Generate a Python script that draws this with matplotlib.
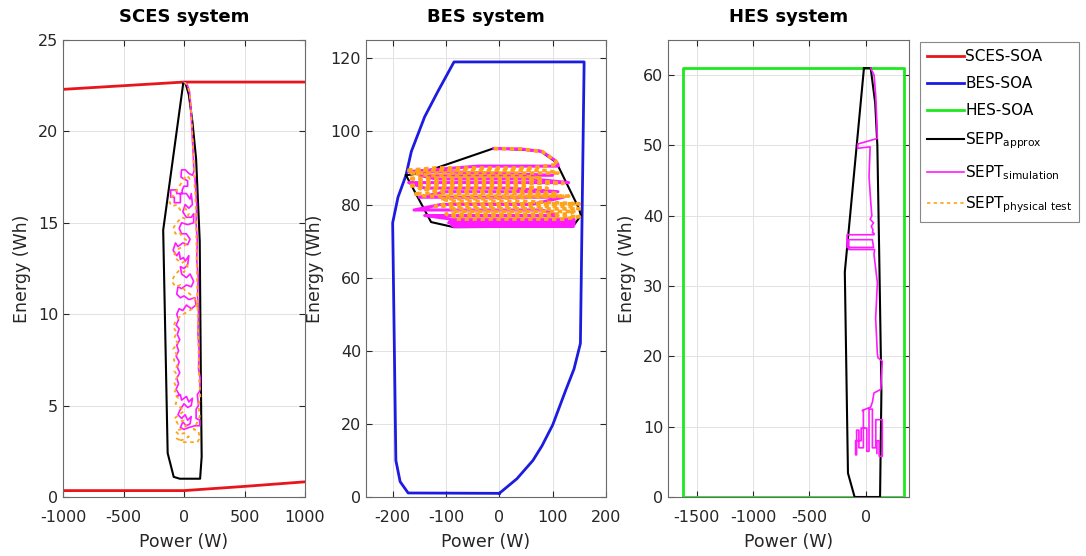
import matplotlib
matplotlib.use("Agg")
import matplotlib.pyplot as plt
from matplotlib.lines import Line2D

plt.rcParams["axes.unicode_minus"] = False

# ---- SCES system ----
sces_soa_hi_p = [-1000, 0, 1000]
sces_soa_hi_e = [22.3, 22.7, 22.7]
sces_soa_lo_p = [-1000, 0, 500, 1000]
sces_soa_lo_e = [0.35, 0.35, 0.58, 0.83]

sces_sepp_p = [-7, -172, -135, -85, -35, 133, 146, 140, 130, 100, 70, 40, 10, -7]
sces_sepp_e = [22.6, 14.6, 2.4, 1.1, 1.0, 1.0, 2.2, 6.0, 14.0, 18.5, 20.5, 22.0, 22.7, 22.6]

sces_sim_p = [0, 25, 45, 55, 62, 70, 78, 82, 70, 40, 10, -20, -25, 0, 30, 30, 0, -15, -15, -60,
              -60, -110, -110, -80, -80, -30, -30, 20, 50, 60, 70, 40, 10, -10, 20, 60, 80, 80, 30, -20,
              -40, -20, 20, 50, 30, -10, -50, -70, -90, -60, -40, -30, -5, 10, 40, 30, 0, -30, -20, 20,
              50, 80, 60, 20, -20, -50, -60, -30, 0, 40, 90, 100, 60, 20, -10, -40, -60, -45, -65, -40,
              -55, -35, -60, -45, -65, -40, -55, -35, -60, -45, -65, -40, -60, -30, -20, 20, 40, 70, 60, 30,
              0, -30, -50, -20, 10, 30, 60, 50, 20, -10, -30, 0, 40, 90, 130, 130, 100, 100, 120, 110,
              130, 135, 120, 125, 115, 120, 112, 118, 105, 110, 100, 105, 95, 90]
sces_sim_e = [22.7, 22.6, 22.2, 21.5, 20.5, 19.5, 18.5, 17.8, 17.6, 17.7, 17.9, 17.9, 17.5, 17.4, 17.3, 17.0, 17.0, 16.8, 16.6, 16.6,
              16.8, 16.8, 16.4, 16.4, 16.1, 16.1, 16.6, 16.6, 16.3, 16.6, 16.0, 15.8, 16.0, 15.6, 15.3, 15.3, 15.5, 15.0, 14.9, 15.0,
              14.7, 14.4, 14.4, 14.1, 13.8, 13.9, 13.7, 13.9, 13.5, 13.2, 13.4, 13.0, 13.1, 12.9, 13.2, 12.7, 12.5, 12.6, 12.2, 12.0,
              12.2, 11.8, 11.5, 11.6, 11.4, 11.5, 11.1, 10.9, 11.0, 10.8, 10.9, 10.5, 10.3, 10.5, 10.2, 10.3, 10.0, 9.7, 9.4, 9.2,
              8.9, 8.6, 8.3, 8.0, 7.7, 7.4, 7.1, 6.8, 6.5, 6.2, 5.9, 5.6, 5.5, 5.6, 5.3, 5.5, 5.2, 5.4, 5.0, 4.9,
              5.1, 4.8, 4.5, 4.3, 4.5, 4.2, 4.4, 4.0, 3.9, 4.1, 3.8, 3.7, 3.8, 3.9, 3.9, 4.2, 4.3, 4.8, 5.0, 5.6,
              5.8, 6.5, 7.0, 8.0, 9.0, 10.0, 11.0, 12.0, 13.0, 14.0, 15.0, 16.0, 17.0, 17.5]

sces_test_p = [5, 30, 48, 58, 66, 74, 82, 86, 50, 20, -10, -40, -70, -100, -120, -95, -60, -30, 10, 40,
               20, -20, -60, -90, -70, -40, -10, 30, 0, -40, -80, -60, -20, 10, 30, 0, -40, -80, -100, -70,
               -30, 10, 50, 90, 110, 70, 20, -30, -70, -90, -60, -80, -50, -90, -60, -85, -55, -80, -50, -85,
               -60, -80, -50, -70, -30, 0, -40, -80, -50, -10, 20, -30, -70, -40, 0, 40, -20, -60, 0, 60,
               110, 130, 120, 80, 110, 130, 120, 135, 125, 120, 115, 110, 105, 100, 95, 85]
sces_test_e = [22.7, 22.5, 22.0, 21.2, 20.2, 19.2, 18.2, 17.5, 17.4, 17.6, 17.3, 17.0, 16.7, 16.4, 16.1, 15.9, 16.0, 15.7, 15.8, 15.5,
               15.2, 15.3, 15.0, 14.7, 14.4, 14.5, 14.2, 14.0, 13.7, 13.6, 13.3, 13.0, 12.8, 12.9, 12.6, 12.3, 12.4, 12.1, 11.8, 11.5,
               11.6, 11.3, 11.1, 10.8, 10.5, 10.3, 10.1, 9.9, 9.6, 9.3, 9.0, 8.7, 8.4, 8.1, 7.8, 7.5, 7.2, 6.9, 6.6, 6.3,
               6.0, 5.7, 5.4, 5.1, 4.9, 4.7, 4.5, 4.3, 4.0, 4.2, 3.9, 3.7, 3.6, 3.4, 3.5, 3.3, 3.1, 3.2, 3.0, 3.0,
               3.0, 3.2, 3.6, 3.7, 4.1, 4.4, 5.0, 5.5, 6.5, 8.0, 9.5, 11.0, 13.0, 15.0, 16.5, 17.2]

# ---- BES system ----
bes_soa_p = [0, -171, -186, -194, -200, -190, -175, -165, -140, -115, -85, 159, 152,
             140, 125, 100, 80, 63, 33, 0]
bes_soa_e = [1, 1.1, 4.2, 10, 75, 82, 88, 94.5, 104, 111, 119, 119, 42,
             35, 29.4, 19.7, 14, 10, 5, 1]

bes_sepp_p = [-175, -146, -10, 76, 107, 149, 153, 138, -85, -128, -175]
bes_sepp_e = [88, 88.6, 95.4, 94.7, 91.5, 79, 77, 74, 73.8, 75.2, 88]

# top arc of the trajectories, then horizontal sweeps (level, left end, right end)
bes_arc_p = [-10, 40, 80, 105, 110]
bes_arc_e = [95.3, 95.2, 94.5, 92.0, 91.0]
bes_sim_lvl = [90.5, 89.0, 88.0, 87.0, 86.0, 84.5, 83.5, 82.0, 80.0, 78.5, 77.0,
               76.0, 75.5, 75.0, 74.5, 74.0]
bes_sim_left = [-40, -170, -150, -120, -170, -140, -100, -150, -110, -160, -140,
                -90, -90, -95, -90, -85]
bes_sim_right = [110, -100, 100, 60, 130, 20, 110, 120, 60, 80, 110,
                 140, 140, 140, 140, 138]
bes_test_lvl = [90.0, 89.3, 88.6, 87.9, 87.2, 86.5, 85.8, 85.1, 84.4, 83.7, 83.0, 82.3,
                81.6, 80.9, 80.2, 79.5, 78.8, 78.1, 77.4, 76.7, 76.0]
bes_test_left = [-120, -175, -165, -130, -170, -150, -140, -170, -150, -120, -160, -140,
                 -110, -90, -100, -120, -90, -80, -100, -90, -80]
bes_test_right = [60, 90, 110, 40, 80, 70, 120, 20, 90, 30, 110, 130,
                  -20, 40, 150, 130, 150, 140, 130, 150, 120]

# ---- HES system ----
hes_soa_p = [-1620, 340, 340, -1620, -1620]
hes_soa_e = [0, 0, 61, 61, 0]

hes_sepp_p = [-15, -185, -157, -98, 128, 140, 120, 104, 85, 45, -15]
hes_sepp_e = [61, 32, 3.4, 0, 0, 15, 35, 50, 56, 61, 61]

hes_sim_p = [45, 75, 90, 100, 104, -70, -70, 40, 30, 45, 55, 40, 70, 50, 65, 60, 75,
             74, -165, -165, 70, 60, -150, -150, 80, 74, 104, 89, 104, 110, 148, 134,
             74, 60, 45, -30, -20, -20, -60, -60, -80, -80, -89, -89, -40, -40, 10, 10,
             30, 30, 60, 60, 90, 90, 148, 148, 120, 120, 100, 100]
hes_sim_e = [61, 60, 57, 53, 51, 50.2, 49.6, 49.8, 45.6, 42, 40, 39.5, 39, 38.5, 38, 37.6, 37.5,
             37.3, 37.3, 35.5, 35.5, 36.6, 36.6, 35.2, 35.2, 34.5, 30.5, 25.4, 20.4, 19.8, 19.3, 15.3,
             14.8, 13.5, 12.8, 12.3, 12.3, 7.0, 7.0, 9.5, 9.5, 6.0, 6.0, 8.0, 8.0, 9.8, 9.8, 6.5,
             6.5, 12.5, 12.5, 7.0, 7.0, 11.0, 11.0, 5.8, 5.8, 8.0, 8.0, 6.2]

c_red = "#e8161b"
c_blue = "#1c1ce0"
c_green = "#1ee81e"
c_mag = "#ff1aff"
c_org = "#ffa31a"
dash_test = (0, (2, 2))


def sweep(arc_p, arc_e, lvl, left, right):
    xs, ys = list(arc_p), list(arc_e)
    for i, y in enumerate(lvl):
        if i % 2 == 0:
            xs += [right[i], left[i]]
        else:
            xs += [left[i], right[i]]
        ys += [y, y]
    return xs, ys


def style(ax, title):
    ax.set_title(title, fontsize=13, fontweight="bold", pad=13)
    ax.set_xlabel("Power (W)", fontsize=12.5, color="#262626", labelpad=6)
    ax.set_ylabel("Energy (Wh)", fontsize=12.5, color="#262626", labelpad=5)
    ax.grid(True, color="#e2e2e2", lw=0.7)
    ax.set_axisbelow(True)
    ax.tick_params(direction="in", top=True, right=True, labelsize=11.5,
                   colors="#262626", length=4)
    ax.tick_params(axis="x", pad=9)
    for s in ax.spines.values():
        s.set_color("#6a6a6a")
        s.set_linewidth(0.8)


fig = plt.figure(figsize=(10.86, 5.56), dpi=100)
W, H = 1086, 556
ax1 = fig.add_axes([63 / W, 59 / H, 242 / W, 457 / H])
ax2 = fig.add_axes([366 / W, 59 / H, 240 / W, 457 / H])
ax3 = fig.add_axes([668 / W, 59 / H, 241 / W, 457 / H])

# SCES
ax1.plot(sces_soa_hi_p, sces_soa_hi_e, color=c_red, lw=2)
ax1.plot(sces_soa_lo_p, sces_soa_lo_e, color=c_red, lw=2)
ax1.plot(sces_sepp_p, sces_sepp_e, color="k", lw=1.5)
ax1.plot(sces_sim_p, sces_sim_e, color=c_mag, lw=1.2)
ax1.plot(sces_test_p, sces_test_e, color=c_org, lw=1.3, ls=dash_test)
ax1.set_xlim(-1000, 1000)
ax1.set_ylim(0, 25)
ax1.set_xticks([-1000, -500, 0, 500, 1000])
ax1.set_yticks([0, 5, 10, 15, 20, 25])
style(ax1, "SCES system")

# BES
ax2.plot(bes_soa_p, bes_soa_e, color=c_blue, lw=2)
ax2.plot(bes_sepp_p, bes_sepp_e, color="k", lw=1.5)
sx, sy = sweep(bes_arc_p, bes_arc_e, bes_sim_lvl, bes_sim_left, bes_sim_right)
ax2.plot(sx, sy, color=c_mag, lw=2.2)
tx, ty = sweep(bes_arc_p, bes_arc_e, bes_test_lvl, bes_test_left, bes_test_right)
ax2.plot(tx, ty, color=c_org, lw=2.6, ls=(0, (1.2, 1.0)))
ax2.set_xlim(-250, 200)
ax2.set_ylim(0, 125)
ax2.set_xticks([-200, -100, 0, 100, 200])
ax2.set_yticks([0, 20, 40, 60, 80, 100, 120])
style(ax2, "BES system")

# HES
ax3.plot(hes_soa_p, hes_soa_e, color=c_green, lw=2)
ax3.plot(hes_sepp_p, hes_sepp_e, color="k", lw=1.5)
ax3.plot(hes_sim_p, hes_sim_e, color=c_mag, lw=1.2)
ax3.set_xlim(-1755, 385)
ax3.set_ylim(0, 65)
ax3.set_xticks([-1500, -1000, -500, 0])
ax3.set_yticks([0, 10, 20, 30, 40, 50, 60])
style(ax3, "HES system")

handles = [
    Line2D([], [], color=c_red, lw=2),
    Line2D([], [], color=c_blue, lw=2),
    Line2D([], [], color=c_green, lw=2),
    Line2D([], [], color="k", lw=1.5),
    Line2D([], [], color=c_mag, lw=1.2),
    Line2D([], [], color=c_org, lw=1.2, ls=dash_test),
]
labels = ["SCES-SOA", "BES-SOA", "HES-SOA", r"SEPP$_{\mathrm{approx}}$",
          r"SEPT$_{\mathrm{simulation}}$", r"SEPT$_{\mathrm{physical\ test}}$"]
leg = fig.legend(handles, labels, loc="upper left", bbox_to_anchor=(920 / W, 1 - 42 / H),
                 fontsize=11, frameon=True, fancybox=False, edgecolor="#6a6a6a",
                 handlelength=2.4, handletextpad=0.1, borderaxespad=0,
                 labelspacing=0.8, borderpad=0.45)
leg.get_frame().set_linewidth(0.8)

fig.savefig("out.png", dpi=100)
